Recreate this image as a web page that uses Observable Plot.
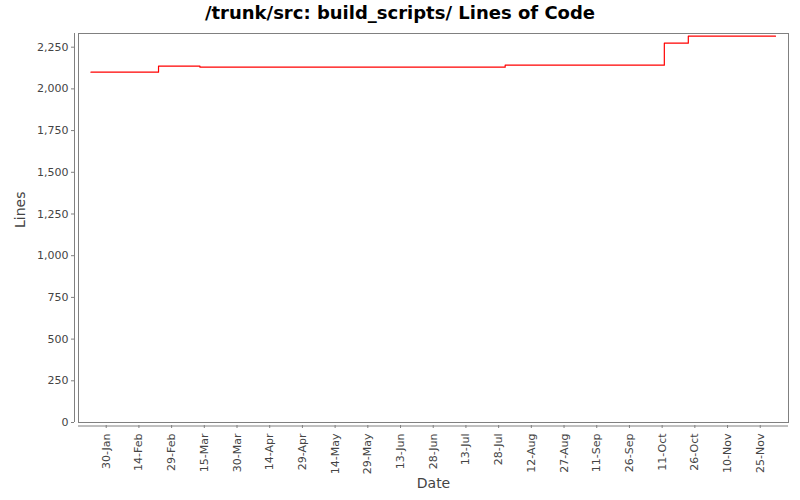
<!DOCTYPE html>
<html>
<head>
<meta charset="utf-8">
<script src="https://cdn.jsdelivr.net/npm/d3@7"></script>
<script src="https://cdn.jsdelivr.net/npm/@observablehq/plot@0.6"></script>
<style>
  html, body { margin: 0; padding: 0; background: #fff; }
  #title { width: 800px; height: 26px; line-height: 26px; text-align: center;
    font-family: "DejaVu Sans", sans-serif; font-weight: bold; font-size: 18px; color: #000; }
  svg { display: block; }
</style>
</head>
<body>
<div id="title">/trunk/src: build_scripts/ Lines of Code</div>
<div id="chart"></div>
<script>
const dates = ["2008-01-23", "2008-02-23", "2008-03-13", "2008-07-31", "2008-10-12", "2008-10-23", "2008-12-02"];
const lines = [2100, 2136, 2130, 2142, 2274, 2316, 2316];
const xTickDates = ["2008-01-30","2008-02-14","2008-02-29","2008-03-15","2008-03-30","2008-04-14","2008-04-29",
  "2008-05-14","2008-05-29","2008-06-13","2008-06-28","2008-07-13","2008-07-28","2008-08-12","2008-08-27",
  "2008-09-11","2008-09-26","2008-10-11","2008-10-26","2008-11-10","2008-11-25"];
const yTicks = [0, 250, 500, 750, 1000, 1250, 1500, 1750, 2000, 2250];
const xDomain = ["2008-01-17T07:00Z", "2008-12-07T23:00Z"];
const yDomain = [0, 2332];

const data = dates.map((d, i) => ({date: new Date(d + "T00:00Z"), lines: lines[i]}));
const xTicks = xTickDates.map(d => new Date(d + "T00:00Z"));
const x0 = new Date(xDomain[0]);

const chart = Plot.plot({
  width: 800,
  height: 474,
  marginLeft: 78,
  marginRight: 12,
  marginTop: 7,
  marginBottom: 78,
  style: {fontFamily: "DejaVu Sans, sans-serif", fontSize: "11px", color: "#444", background: "#fff"},
  x: {type: "utc", domain: xDomain.map(d => new Date(d))},
  y: {domain: yDomain},
  marks: [
    Plot.frame({stroke: "#808080", strokeWidth: 1}),
    Plot.ruleX([x0], {stroke: "#808080", dx: -4}),
    Plot.ruleY([0], {stroke: "#808080", dy: 3.5}),
    Plot.axisY(yTicks, {anchor: "left", dx: -4, tickSize: 3, tickPadding: 3, stroke: "#808080",
      fill: "#444", tickFormat: d3.format(","), label: null, fontSize: 11, style: "letter-spacing:0.4px"}),
    Plot.axisX(xTicks, {anchor: "bottom", dy: 3, tickSize: 3, tickPadding: 5, tickRotate: -90,
      stroke: "#808080", fill: "#444", tickFormat: d3.utcFormat("%-d-%b"), label: null, fontSize: 11}),
    Plot.line(data, {x: "date", y: "lines", curve: "step-after", stroke: "red", strokeWidth: 1.2}),
    Plot.text(["Date"], {frameAnchor: "bottom", dy: 65, fontSize: 14, fill: "#444"}),
    Plot.text(["Lines"], {frameAnchor: "left", dx: -58, rotate: -90, fontSize: 14, fill: "#444"})
  ]
});
document.getElementById("chart").appendChild(chart);
</script>
</body>
</html>
